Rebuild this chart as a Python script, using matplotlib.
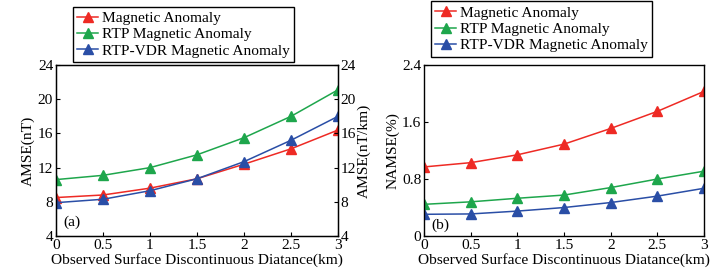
import matplotlib.pyplot as plt

plt.rcParams['font.family'] = ['Liberation Serif']
plt.rcParams['font.size'] = 11.1

# data
dist = [0, 0.5, 1, 1.5, 2, 2.5, 3]
xticks = [0, 0.5, 1, 1.5, 2, 2.5, 3]
xticklabels = ['0', '0.5', '1', '1.5', '2', '2.5', '3']
names = ['Magnetic Anomaly', 'RTP Magnetic Anomaly', 'RTP-VDR Magnetic Anomaly']
colors = ['#ee2a24', '#1ea64c', '#2a4ea6']

amse_mag = [8.5, 8.8, 9.6, 10.7, 12.4, 14.2, 16.4]
amse_rtp = [10.6, 11.1, 12.0, 13.5, 15.5, 18.0, 21.1]
amse_vdr = [7.9, 8.3, 9.3, 10.7, 12.7, 15.2, 18.0]

namse_mag = [0.97, 1.03, 1.14, 1.29, 1.51, 1.75, 2.03]
namse_rtp = [0.445, 0.48, 0.53, 0.575, 0.68, 0.80, 0.91]
namse_vdr = [0.305, 0.31, 0.35, 0.40, 0.47, 0.56, 0.67]

fig = plt.figure(figsize=(7.25, 2.78), dpi=100)
ax1 = fig.add_axes([0.0772, 0.151, 0.389, 0.615])
ax2 = fig.add_axes([0.585, 0.151, 0.386, 0.615])

def draw(ax, series):
    lines = []
    for vals, c, n in zip(series, colors, names):
        l, = ax.plot(dist, vals, color=c, marker='^', markersize=7, lw=1.1, label=n)
        lines.append(l)
    ax.set_xlim(0, 3)
    ax.set_xticks(xticks)
    ax.set_xticklabels(xticklabels)
    ax.set_xlabel('Observed Surface Discontinuous Diatance(km)', labelpad=1)
    ax.tick_params(direction='in', length=3, width=0.8, pad=2)
    for s in ax.spines.values():
        s.set_linewidth(1.0)
    return lines

lines = draw(ax1, [amse_mag, amse_rtp, amse_vdr])
ax1.set_ylim(4, 24)
ax1.set_yticks([4, 8, 12, 16, 20, 24])
ax1.set_ylabel('AMSE(nT)', labelpad=2)
ax1.text(0.08, 5.2, '(a)')
ax1r = ax1.twinx()
ax1r.set_ylim(4, 24)
ax1r.set_yticks([4, 8, 12, 16, 20, 24])
ax1r.set_ylabel('AMSE(nT/km)', labelpad=1)
ax1r.tick_params(direction='in', length=3, width=0.8, pad=2)
ax1.tick_params(right=False)

leg_kw = dict(loc='upper left', frameon=True, fancybox=False, edgecolor='black',
              framealpha=1, handlelength=1.35, handletextpad=0.25, borderpad=0.3,
              labelspacing=0.15, borderaxespad=0)

fig.legend(handles=lines, bbox_to_anchor=(0.1, 0.975), **leg_kw)

lines2 = draw(ax2, [namse_mag, namse_rtp, namse_vdr])
ax2.set_ylim(0, 2.4)
ax2.set_yticks([0, 0.8, 1.6, 2.4])
ax2.set_yticklabels(['0', '0.8', '1.6', '2.4'])
ax2.set_ylabel('NAMSE(%)', labelpad=2)
ax2.text(0.08, 0.1, '(b)')

fig.legend(handles=lines2, bbox_to_anchor=(0.594, 0.995), **leg_kw)

fig.savefig('out.png', dpi=100)
